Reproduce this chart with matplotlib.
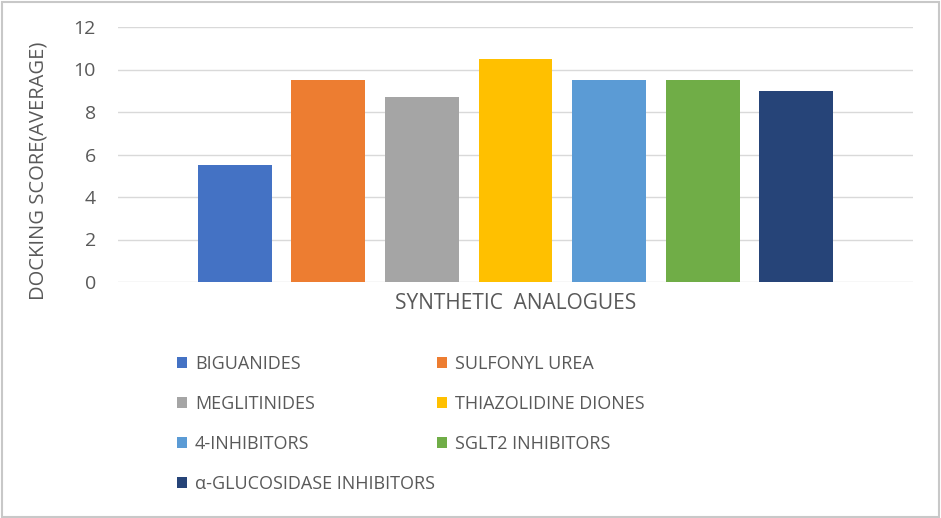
import matplotlib.pyplot as plt
from matplotlib.patches import Rectangle

# data
classes = ['BIGUANIDES', 'SULFONYL UREA', 'MEGLITINIDES', 'THIAZOLIDINE DIONES',
           '4-INHIBITORS', 'SGLT2 INHIBITORS', 'α-GLUCOSIDASE INHIBITORS']
scores = [5.5, 9.5, 8.7, 10.5, 9.5, 9.5, 9.0]
colors = ['#4472C4', '#ED7D31', '#A5A5A5', '#FFC000', '#5B9BD5', '#70AD47', '#264478']
yticks = [0, 2, 4, 6, 8, 10, 12]

plt.rcParams['font.family'] = ['Open Sans', 'DejaVu Sans']
txt = '#595959'

fig = plt.figure(figsize=(9.41, 5.18), dpi=100)
W, H = 941, 518
ax = fig.add_axes([118 / W, 1 - 282 / H, (913 - 118) / W, (282 - 27) / H])

n = len(classes)
pos = [i - (n - 1) / 2 for i in range(n)]
bars = []
for p, s, c, lab in zip(pos, scores, colors, classes):
    bars.append(ax.bar(p, s, width=0.79, color=c, label=lab, zorder=3))

ax.set_xlim(-4.25, 4.25)
ax.set_ylim(0, 12)
ax.set_yticks(yticks)
ax.set_xticks([])
ax.grid(axis='y', color='#D9D9D9', linewidth=1, zorder=0)
for sp in ax.spines.values():
    sp.set_visible(False)
ax.tick_params(axis='y', length=0, labelsize=14, labelcolor=txt, pad=16)
ax.set_ylabel('DOCKING SCORE(AVERAGE)', fontsize=14.5, color=txt)
ax.yaxis.set_label_coords(-0.088, 0.435)
ax.set_xlabel('SYNTHETIC  ANALOGUES', fontsize=15, color=txt, labelpad=8)

# legend entries, laid out row by row in two columns like Excel
col_x = [177, 437]
row_y = [364, 404, 444, 484]
for i, (b, lab) in enumerate(zip(bars, classes)):
    x = col_x[i % 2] / W
    y = 1 - row_y[i // 2] / H
    leg = fig.legend([b], [lab], loc='center left', bbox_to_anchor=(x, y),
                     frameon=False, fontsize=13, handlelength=0.55, handleheight=0.55,
                     handletextpad=0.45, borderpad=0, borderaxespad=0)
    for t in leg.get_texts():
        t.set_color(txt)

# outer frame
fig.patches.append(Rectangle((0.002, 0.002), 0.996, 0.994, transform=fig.transFigure,
                             fill=False, edgecolor='#C8C8C8', linewidth=1.5))

fig.savefig('out.png', dpi=100)
